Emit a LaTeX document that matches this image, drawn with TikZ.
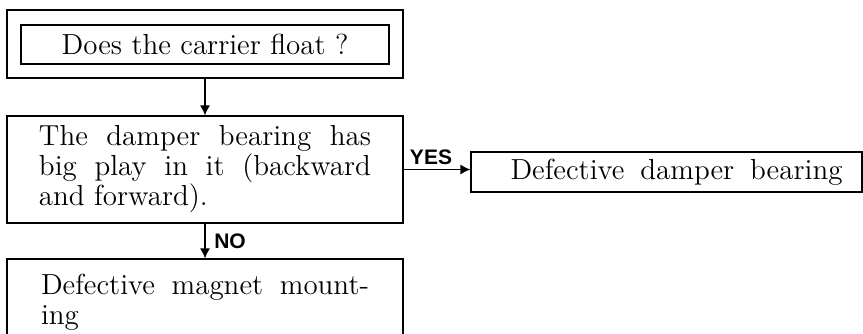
\documentclass[tikz,border=0pt]{standalone}
\usepackage{fontspec}
\newfontfamily\labelfont{Liberation Sans}
\usetikzlibrary{arrows.meta}

\begin{document}
\begin{tikzpicture}[x=0.5pt, y=-0.5pt, line width=0.6pt,
  every node/.style={font=\fontsize{14.5}{15}\selectfont},
  box/.style={draw, inner sep=0pt, minimum width=198pt},
  tag/.style={font=\labelfont\bfseries\fontsize{10.5}{12}\selectfont, inner sep=1pt},
  arr/.style={-{Latex[length=5pt, width=5pt]}}]
  \useasboundingbox (0,0) rectangle (863,333);
  % question, framed twice
  \node[box, minimum height=34pt] (qframe) at (205,44) {};
  \node[box, minimum width=184pt, minimum height=19.5pt] (float) at (205,44.5)
        {Does the carrier float ?};
  % damper bearing check
  \node[box, minimum height=53.5pt, text width=166pt, align=justify] (damper) at (205,169.5)
        {The damper bearing has\linebreak big play in it (backward\linebreak and forward).};
  \node[box, minimum width=195.5pt, minimum height=20pt] (bearing) at (666.5,172)
        {\hspace*{10pt}\makebox[166pt][s]{Defective damper bearing}};
  \node[box, minimum height=43pt, text width=164pt, align=justify] (mount) at (205,302)
        {Defective magnet mount-\linebreak ing};
  % connectors
  \draw[arr] (qframe.south) -- (damper.north);
  \draw[arr] (damper.east) -- (damper.east -| bearing.west);
  \draw[arr] (damper.south) -- (mount.north);
  \node[tag] (yes) at (431,157) {YES};
  \node[tag] (no) at (230,241) {NO};
\end{tikzpicture}
\end{document}
